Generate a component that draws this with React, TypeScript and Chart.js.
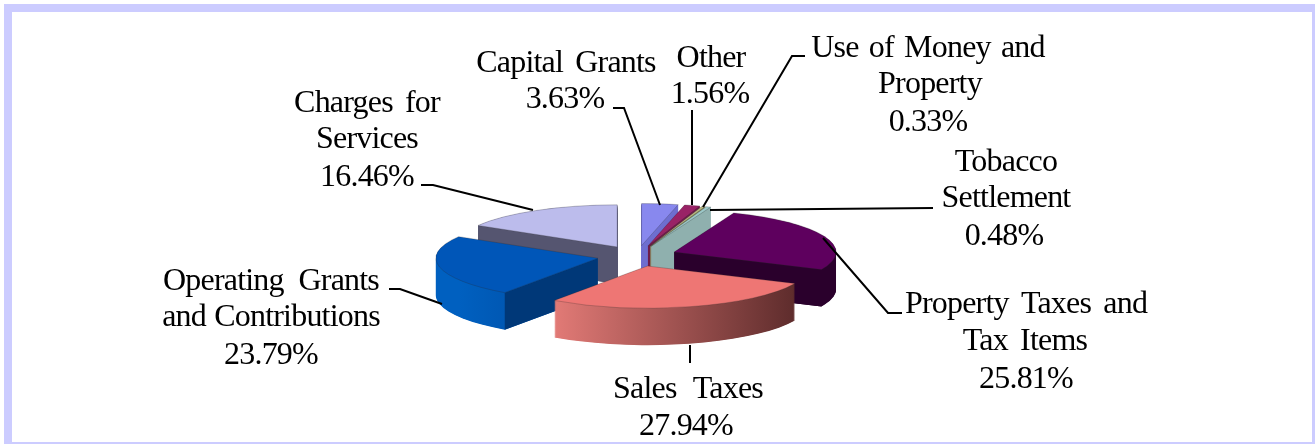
import React, { useEffect, useRef } from "react";
import { Chart, registerables } from "chart.js";

Chart.register(...registerables);

const categories: string[][] = [
  ["Capital Grants"],
  ["Other"],
  ["Use of Money and", "Property"],
  ["Tobacco", "Settlement"],
  ["Property Taxes and", "Tax Items"],
  ["Sales Taxes"],
  ["Operating Grants", "and Contributions"],
  ["Charges for", "Services"],
];
const shares: number[] = [3.63, 1.56, 0.33, 0.48, 25.81, 27.94, 23.79, 16.46];

const topColors = ["#8888EE", "#992266", "#B8B880", "#9CC8C8", "#5E005E", "#EE7674", "#0056B8", "#BCBCEC"];
const sideStart = ["#6E6ED0", "#6E1C4A", "#8A8A60", "#8FB0AE", "#2A002C", "#E27A76", "#0060C0", "#555570"];
const sideEnd = ["#6E6ED0", "#6E1C4A", "#8A8A60", "#8FB0AE", "#2A002C", "#5E2C2C", "#0058B4", "#555570"];
const cutColors = ["#6E6ED0", "#6E1C4A", "#8A8A60", "#8FB0AE", "#2A002C", "#5E2C2C", "#003878", "#555570"];

// Layout of the 3-D look and of the labels (not data).
const paintOrder = [0, 1, 2, 3, 7, 4, 6, 5];
const TILT = 0.26;
const DEPTH = 37;
const EXPLODE = 40;
const RADIUS = 162;

// For each category: [centre x, baseline y] of every text line.
const labelLines: number[][][] = [
  [[566, 72], [565, 108]],
  [[711, 67], [710, 103]],
  [[928, 57], [930, 93], [928, 131]],
  [[1006, 171], [1006, 207], [1004, 245]],
  [[1026, 313], [1025, 350], [1026, 388]],
  [[688, 398], [686, 435]],
  [[271, 290], [271, 326], [271, 364]],
  [[367, 112], [367, 148], [367, 186]],
];
const wordGaps: Record<string, string> = {
  "Use of Money and": "3px",
  "Sales Taxes": "9px",
  "Operating Grants": "7.5px",
  "and Contributions": "1px",
};
const leaders: number[][][] = [
  [[613, 108], [624, 108], [660, 205]],
  [[692, 110], [692, 205]],
  [[805, 56], [792, 56], [703, 207]],
  [[933, 208], [710, 210]],
  [[902, 313], [888, 313], [823, 238]],
  [[690, 345], [690, 363]],
  [[389, 289], [400, 289], [442, 304]],
  [[421, 185], [433, 185], [533, 210]],
];

const pie3d = {
  id: "pie3d",
  beforeDatasetsDraw(chart: any) {
    const ctx: CanvasRenderingContext2D = chart.ctx;
    const arcs = chart.getDatasetMeta(0).data;
    const cx = arcs[0].x;
    const cy = arcs[0].y;
    ctx.save();
    ctx.translate(cx, cy);
    ctx.scale(1, TILT);
    ctx.translate(-cx, -cy);
    const drop = DEPTH / TILT;
    for (const i of paintOrder) {
      const arc = arcs[i];
      const { x, y, startAngle: a0, endAngle: a1, outerRadius: r } = arc;
      const mid = (a0 + a1) / 2;
      ctx.save();
      ctx.translate(Math.cos(mid) * EXPLODE, Math.sin(mid) * EXPLODE);

      const grad = ctx.createLinearGradient(x + Math.cos(a1) * r, 0, x + Math.cos(a0) * r, 0);
      grad.addColorStop(0, sideStart[i]);
      grad.addColorStop(1, sideEnd[i]);
      ctx.fillStyle = grad;
      for (let d = DEPTH; d > 0; d -= 0.5) {
        ctx.beginPath();
        ctx.moveTo(x, y + d / TILT);
        ctx.arc(x, y + d / TILT, r, a0, a1);
        ctx.closePath();
        ctx.fill();
      }

      // The cut faces that turn towards the viewer.
      ctx.fillStyle = cutColors[i];
      for (const [edge, normal] of [[a0, a0 - Math.PI / 2], [a1, a1 + Math.PI / 2]]) {
        if (Math.sin(normal) > 0.01) {
          ctx.beginPath();
          ctx.moveTo(x, y);
          ctx.lineTo(x + Math.cos(edge) * r, y + Math.sin(edge) * r);
          ctx.lineTo(x + Math.cos(edge) * r, y + Math.sin(edge) * r + drop);
          ctx.lineTo(x, y + drop);
          ctx.closePath();
          ctx.fill();
        }
      }

      arc.draw(ctx);
      ctx.restore();
    }
    ctx.restore();
    return false;
  },
  afterDraw(chart: any) {
    const ctx: CanvasRenderingContext2D = chart.ctx;
    ctx.save();
    ctx.strokeStyle = "#000";
    ctx.lineWidth = 2;
    for (const pts of leaders) {
      ctx.beginPath();
      pts.forEach(([px, py], k) => (k ? ctx.lineTo(px, py) : ctx.moveTo(px, py)));
      ctx.stroke();
    }
    ctx.fillStyle = "#000";
    ctx.font = '32px "Liberation Serif"';
    ctx.textAlign = "center";
    ctx.textBaseline = "alphabetic";
    (ctx as any).letterSpacing = "-0.8px";
    categories.forEach((lines, i) => {
      const text = [...lines, shares[i].toFixed(2) + "%"];
      text.forEach((t, k) => {
        (ctx as any).wordSpacing = wordGaps[t] ?? "5px";
        ctx.fillText(t, labelLines[i][k][0], labelLines[i][k][1]);
      });
    });
    ctx.restore();
  },
};

export default function App() {
  const ref = useRef<HTMLCanvasElement>(null);
  useEffect(() => {
    document.body.style.margin = "0";
    const chart = new Chart(ref.current!, {
      type: "pie",
      data: {
        labels: categories.map((c) => c.join(" ")),
        datasets: [
          {
            data: shares,
            backgroundColor: topColors,
            borderColor: "rgba(40,40,40,0.4)",
            borderWidth: 1,
            clip: false,
          } as any,
        ],
      },
      options: {
        responsive: false,
        animation: false,
        radius: RADIUS,
        layout: { padding: { top: 68, right: 41 } },
        plugins: { legend: { display: false }, tooltip: { enabled: false } },
      } as any,
      plugins: [pie3d as any],
    });
    return () => chart.destroy();
  }, []);
  return (
    <div style={{ position: "absolute", left: 0, top: 0, width: 1315, height: 444, overflow: "hidden", background: "#fff" }}>
      <canvas
        ref={ref}
        width={1315}
        height={444}
        style={{ position: "absolute", left: 0, top: 0, display: "block", filter: "blur(0.45px)" }}
      />
      <div
        style={{
          position: "absolute",
          left: 4,
          top: 4,
          width: 1324,
          height: 454,
          boxSizing: "border-box",
          borderTop: "8px solid #CCCCFF",
          borderLeft: "8px solid #CCCCFF",
          borderRight: "16px solid #CCCCFF",
          borderBottom: "16px solid #CCCCFF",
        }}
      />
    </div>
  );
}
